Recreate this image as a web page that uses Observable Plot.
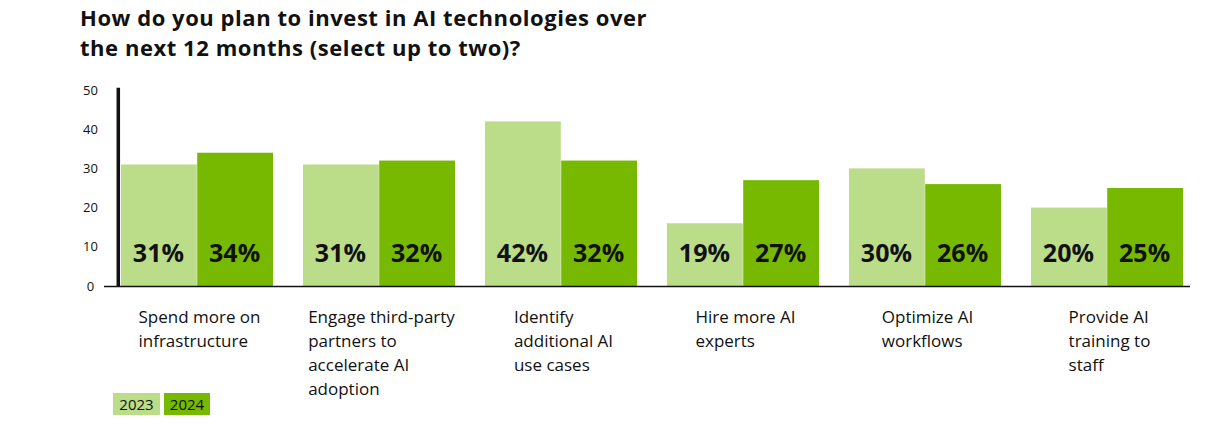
<!DOCTYPE html>
<html>
<head>
<meta charset="utf-8">
<script src="https://cdn.jsdelivr.net/npm/d3@7"></script>
<script src="https://cdn.jsdelivr.net/npm/@observablehq/plot@0.6"></script>
<style>
  html, body { margin: 0; padding: 0; background: #fff; }
  body { width: 1209px; height: 424px; position: relative; overflow: hidden; font-family: "Open Sans", sans-serif; }
  #title { position: absolute; left: 80px; top: 2px; font-size: 22px; font-weight: 700; line-height: 30px; letter-spacing: 0.55px; color: #111; }
  #chart { position: absolute; left: 0; top: 70px; }
  .legend { position: absolute; top: 393px; height: 22px; line-height: 22px; font-size: 15px; color: #111; text-align: center; }
</style>
</head>
<body>
<div id="title">How do you plan to invest in AI technologies over<br>the next 12 months (select up to two)?</div>
<div id="chart"></div>
<div id="legend"></div>
<script>
const categories = [
  "Spend more on\ninfrastructure",
  "Engage third-party\npartners to\naccelerate AI\nadoption",
  "Identify\nadditional AI\nuse cases",
  "Hire more AI\nexperts",
  "Optimize AI\nworkflows",
  "Provide AI\ntraining to\nstaff"
];
const years = ["2023", "2024"];
// bar heights as drawn in the reference
const bars2023 = [31, 31, 42, 16, 30, 20];
const bars2024 = [34, 32, 32, 27, 26, 25];
// percentage labels printed on the bars
const labels2023 = [31, 31, 42, 19, 30, 20];
const labels2024 = [34, 32, 32, 27, 26, 25];
const yTicks = [0, 10, 20, 30, 40, 50];
const colors = {"2023": "#bbdc88", "2024": "#76b900"};

const rows = [];
categories.forEach((c, i) => {
  rows.push({cat: c, year: "2023", value: bars2023[i], label: labels2023[i] + "%"});
  rows.push({cat: c, year: "2024", value: bars2024[i], label: labels2024[i] + "%"});
});

const W = 1209, H = 354;
const xRange = [119, 1184];
const padInner = 0.165;
const step = (xRange[1] - xRange[0]) / (categories.length - padInner);
const bw = step * (1 - padInner);
const half = bw / 2;

const font = '"Open Sans", sans-serif';
const catSize = 17;
const ctx = document.createElement("canvas").getContext("2d");
ctx.font = `${catSize}px "Open Sans"`;
const blockWidth = c => Math.max(...c.split("\n").map(s => ctx.measureText(s).width));

const catMarks = categories.map(c => Plot.text([c], {
  x: d => d, y: 0, text: d => d,
  textAnchor: "start", lineAnchor: "top", dy: 19, dx: -blockWidth(c) / 2 + 2,
  fontSize: catSize, lineHeight: 24 / catSize, fill: "#111"
}));

const chart = Plot.plot({
  width: W, height: H,
  marginLeft: 104, marginRight: 19, marginTop: 20, marginBottom: 138,
  style: {fontFamily: font, background: "#fff"},
  x: {domain: categories, range: xRange, paddingInner: padInner, paddingOuter: 0, axis: null},
  y: {domain: [0, 50], axis: null},
  color: {domain: years, range: years.map(y => colors[y])},
  marks: [
    Plot.barY(rows.filter(d => d.year === "2023"), {x: "cat", y: "value", fill: "year", insetRight: half}),
    Plot.barY(rows.filter(d => d.year === "2024"), {x: "cat", y: "value", fill: "year", insetLeft: half}),
    Plot.text(rows.filter(d => d.year === "2023"), {x: "cat", y: 0, text: "label", dx: -half / 2 - 1, dy: -33, fontSize: 25, fontWeight: 700, fill: "#111", lineAnchor: "middle"}),
    Plot.text(rows.filter(d => d.year === "2024"), {x: "cat", y: 0, text: "label", dx: half / 2 - 1, dy: -33, fontSize: 25, fontWeight: 700, fill: "#111", lineAnchor: "middle"}),
    Plot.ruleY([0], {stroke: "#111", strokeWidth: 1.5}),
    Plot.ruleX([categories[0]], {y1: 0, y2: 50.6, dx: -half - 3, stroke: "#111", strokeWidth: 3.5}),
    Plot.text(yTicks, {y: d => d, text: d => String(d), frameAnchor: "left", dx: -14, textAnchor: "middle", fontSize: 13, fill: "#111"}),
    ...catMarks
  ]
});
document.getElementById("chart").appendChild(chart);

const legend = document.getElementById("legend");
[["2023", 113, 47], ["2024", 164, 46]].forEach(([y, left, w]) => {
  const d = document.createElement("div");
  d.className = "legend";
  d.style.left = left + "px";
  d.style.width = w + "px";
  d.style.background = colors[y];
  d.textContent = y;
  legend.appendChild(d);
});
</script>
</body>
</html>
